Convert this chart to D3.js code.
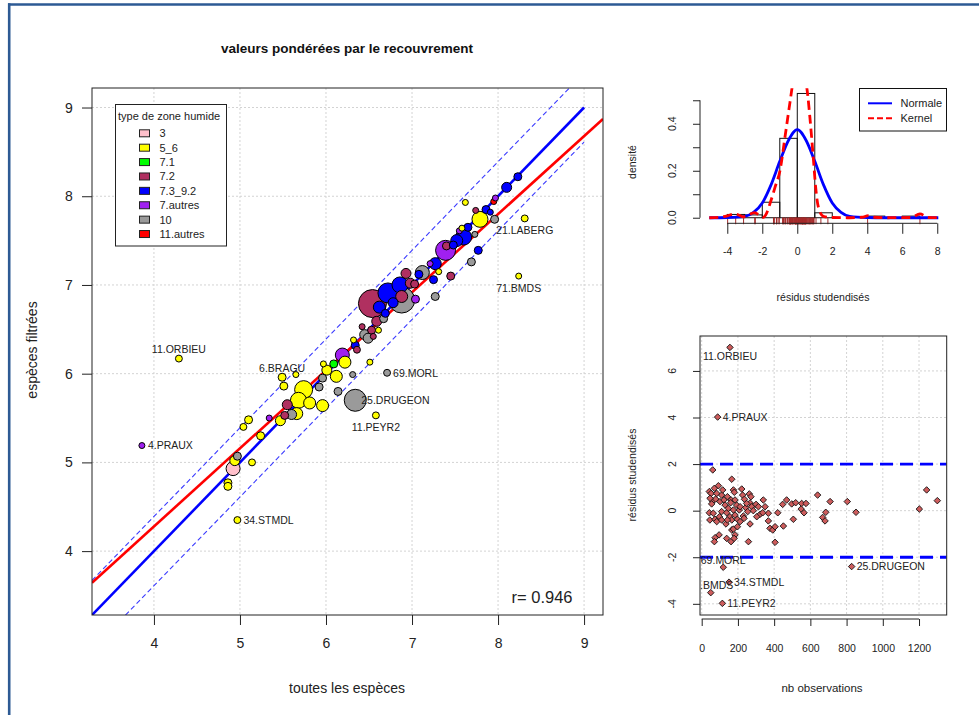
<!DOCTYPE html>
<html>
<head>
<meta charset="utf-8">
<script src="https://cdn.jsdelivr.net/npm/d3@7"></script>
<style>
  body { margin: 0; background: #fff; }
  svg { display: block; font-family: "Liberation Sans", Arial, sans-serif; }
</style>
</head>
<body>
<svg id="fig" width="979" height="715"></svg>
<script>
// ---------- nuage principal : richesse toutes espèces vs espèces filtrées ----------
const groupes = ["3", "5_6", "7.1", "7.2", "7.3_9.2", "7.autres", "10", "11.autres"];

// the first nine sites carry a name label
const sitesEtiquetes = ["11.ORBIEU", "4.PRAUX", "6.BRAGU", "69.MORL", "25.DRUGEON",
                        "11.PEYR2", "34.STMDL", "21.LABERG", "71.BMDS"];

const toutesEspeces = [
  4.29, 3.86, 5.49, 6.71, 6.34, 6.58, 4.97, 8.31, 8.24,
  4.94, 4.97, 4.92, 5.14, 4.86, 4.86, 5.24, 5.04, 5.10, 5.34,
  5.47, 5.60, 5.52, 5.55, 5.66, 5.74, 5.68, 5.81, 5.96, 5.65,
  5.51, 5.92, 5.96, 6.01, 6.12, 5.97, 6.09, 6.19, 6.22, 6.14,
  6.31, 6.51, 6.34, 6.32, 6.36, 6.42, 6.45, 6.49, 6.55, 6.53,
  6.61, 6.59, 6.67, 6.69, 6.54, 6.72, 6.88, 6.88, 6.86, 7.04,
  7.27, 6.93, 6.98, 7.03, 7.12, 7.25, 7.27, 7.31, 7.45, 7.69,
  7.21, 7.39, 7.40, 7.48, 7.52, 7.60, 7.55, 7.58, 7.65, 7.73,
  7.77, 7.79, 7.96, 7.74, 7.86, 7.91, 7.62, 7.95, 7.97, 8.10,
  8.23, 6.62, 6.78, 7.08
];
const especesFiltrees = [
  6.17, 5.19, 5.96, 6.01, 5.70, 5.53, 4.35, 7.75, 7.10,
  5.02, 5.07, 4.93, 5.00, 4.77, 4.73, 5.30, 5.40, 5.48, 5.50,
  5.47, 5.54, 5.53, 5.65, 5.55, 5.82, 5.70, 5.67, 5.64, 5.99,
  5.86, 5.85, 5.95, 6.04, 5.97, 6.11, 6.11, 6.21, 6.13, 5.80,
  5.99, 6.13, 6.32, 6.38, 6.27, 6.53, 6.44, 6.40, 6.42, 6.49,
  6.49, 6.59, 6.62, 6.68, 6.79, 6.91, 6.83, 6.87, 7.00, 6.84,
  6.87, 7.13, 7.02, 7.01, 7.14, 7.06, 7.24, 7.15, 7.10, 7.26,
  7.24, 7.39, 7.44, 7.45, 7.50, 7.54, 7.61, 7.64, 7.65, 7.57,
  7.39, 7.74, 7.74, 7.84, 7.85, 7.82, 7.93, 7.94, 7.98, 8.10,
  8.22, 6.75, 6.80, 7.12
];
// weighting by cover (recouvrement), drawn as circle area
const poids = [
  12, 9, 16, 12, 121, 12, 12, 12, 9,
  25, 16, 49, 12, 16, 16, 16, 12, 16, 9,
  25, 25, 16, 25, 36, 81, 64, 36, 36, 9,
  16, 16, 16, 25, 36, 9, 16, 49, 36, 16,
  9, 9, 16, 9, 12, 9, 25, 25, 9, 16,
  9, 25, 16, 16, 196, 100, 169, 36, 64, 16,
  16, 25, 25, 16, 49, 16, 36, 9, 16, 16,
  9, 100, 16, 16, 36, 64, 9, 9, 16, 9,
  16, 64, 16, 9, 16, 9, 9, 9, 9, 25,
  16, 36, 25, 16
];
const zone = [
  "5_6", "7.autres", "5_6", "10", "10", "5_6", "5_6", "5_6", "5_6",
  "5_6", "10", "3", "5_6", "5_6", "5_6", "5_6", "5_6", "5_6", "7.autres",
  "5_6", "10", "7.2", "7.2", "5_6", "5_6", "5_6", "5_6", "5_6", "5_6",
  "5_6", "10", "10", "5_6", "5_6", "5_6", "7.1", "7.autres", "5_6", "10",
  "10", "5_6", "7.3_9.2", "5_6", "7.2", "7.2", "10", "10", "7.2", "7.2",
  "5_6", "7.2", "10", "7.3_9.2", "7.2", "7.3_9.2", "10", "7.2", "7.3_9.2", "7.autres",
  "10", "7.2", "7.2", "7.2", "10", "7.3_9.2", "7.3_9.2", "5_6", "7.2", "10",
  "7.autres", "7.autres", "7.2", "7.3_9.2", "7.3_9.2", "7.3_9.2", "7.autres", "5_6", "7.3_9.2", "10",
  "7.3_9.2", "5_6", "10", "7.2", "7.3_9.2", "7.3_9.2", "5_6", "11.autres", "7.autres", "7.3_9.2",
  "7.3_9.2", "7.3_9.2", "7.3_9.2", "7.3_9.2"
];
const coefCorrelation = 0.946;
const regression = { a: 0.758, b: 0.880 };   // y = a + b x
const demiBande = 0.39;                       // band around the 1:1 line
const ticksMain = [4, 5, 6, 7, 8, 9];

// ---------- résidus studentisés vs nb observations ----------
const sitesResidus = ["11.ORBIEU", "4.PRAUX", "69.MORL", "71.BMDS", "34.STMDL", "11.PEYR2", "25.DRUGEON"];
const nbObservations = [
  156, 88, 119, 50, 151, 114, 828,
  61, 166, 92, 70, 42, 52, 110, 142, 175, 180, 221, 226, 263, 272, 61, 77, 101, 123, 162, 193,
  42, 45, 64, 74, 83, 98, 110, 138, 156, 166, 184, 197, 208, 230, 243, 254, 267, 276, 285, 300,
  313, 322, 340, 350, 368, 368, 377, 392, 405, 405, 420, 451, 447, 469, 497, 519, 506, 552, 549,
  565, 576, 640, 668, 685, 681, 709, 804, 852, 1202, 1242, 1301, 74, 96, 70, 138, 162, 166, 175,
  184, 179, 258, 55, 46, 83, 116, 129, 147, 184, 212, 236, 248, 110, 134, 197, 267, 304, 337, 175,
  212, 234, 142, 160
];
const residus = [
  7.01, 4.02, -2.43, -3.52, -3.07, -3.98, -2.40,
  1.75, 1.35, 1.07, 0.96, 0.82, 0.74, 0.67, 0.60, 0.89, 0.79, 0.93, 0.67, 0.72, 0.60, 0.41, 0.50, 0.39, 0.46, 0.46, 0.24,
  -0.09, -0.40, -0.11, -0.37, -0.47, -0.26, -0.04, -0.09, -0.26, -0.40, -0.19, -0.37, 0.03, -0.23, 0.13, -0.04, 0.33, 0.17, 0.00, 0.27,
  0.17, -0.16, 0.46, 0.17, -0.11, -0.44, -0.76, -0.83, -0.69, -1.36, -0.09, -0.66, 0.27, 0.46, 0.29, 0.34, -0.37, 0.31, 0.07,
  -0.09, 0.31, 0.67, -0.29, -0.07, -0.44, 0.39, 0.39, -0.07, 0.07, 0.89, 0.43, -1.16, -1.04, -1.33, -1.19, -1.33, -0.83, -0.79,
  -1.04, -1.19, -1.33, 0.29, 0.53, 0.74, 0.89, 0.24, 0.10, 0.46, 0.17, 0.49, 0.31, -0.40, -0.57, -0.69, -0.57, -0.26, -0.09, 0.03,
  -0.47, -0.33, -0.40, 0.34
];
const seuilResidus = [2, -2];

// ---------- histogramme des résidus ----------
const bornes = [-4, -3, -2, -1, 0, 1, 2, 3, 4, 5, 6, 7, 8];
const densites = [0.014, 0.012, 0.066, 0.338, 0.529, 0.021, 0, 0, 0.007, 0, 0.007, 0];
const normaleX = [-5.03, -4, -3, -2.5, -2, -1.5, -1, -0.5, 0, 0.5, 1, 1.5, 2, 2.5, 3, 4, 5, 6, 7, 8.06];
const normaleY = [0, 0.001, 0.006, 0.023, 0.063, 0.14, 0.24, 0.33, 0.375, 0.33, 0.24, 0.14, 0.063, 0.023, 0.006, 0.001, 0, 0, 0, 0];
const noyauX = [-5.03, -4.5, -4.0, -3.6, -3.3, -3.1, -2.8, -2.45, -2.2, -1.95, -1.75, -1.56, -1.27, -0.99,
                -0.70, -0.42, -0.2, 0.1, 0.4, 0.6, 0.73, 0.91, 1.05, 1.2, 1.49, 2.0, 3.0, 3.7, 4.06, 4.4,
                5.0, 6.5, 7.01, 7.5, 8.06];
const noyauY = [0, 0.002, 0.008, 0.016, 0.010, 0.004, 0.012, 0.022, 0.012, 0.002, 0.02, 0.06, 0.13, 0.20,
                0.345, 0.49, 0.6, 0.68, 0.62, 0.52, 0.42, 0.26, 0.13, 0.047, 0.006, 0.001, 0, 0.002, 0.009, 0.002,
                0, 0.001, 0.016, 0.001, 0];

// ---------- styles ----------
const palette = {
  "3": "#FFC0CB", "5_6": "#FFFF00", "7.1": "#00FF00", "7.2": "#B03060",
  "7.3_9.2": "#0000FF", "7.autres": "#A020F0", "10": "#9A9A9A", "11.autres": "#FF0000"
};
const placeMain = { "11.ORBIEU": 3, "4.PRAUX": 4, "6.BRAGU": 3, "69.MORL": 4, "25.DRUGEON": 4,
                    "11.PEYR2": 1, "34.STMDL": 4, "21.LABERG": 1, "71.BMDS": 1 };
const placeRes = { "11.ORBIEU": 1, "4.PRAUX": 4, "69.MORL": 3, "71.BMDS": 3, "34.STMDL": 4,
                   "11.PEYR2": 4, "25.DRUGEON": 4 };
const gridStyle = { stroke: "#d3d3d3", dash: "2,2" };
const txtCol = "#222";

const svg = d3.select("#fig");

// window frame
svg.append("line").attr("x1", 8).attr("x2", 979).attr("y1", 4.5).attr("y2", 4.5)
  .attr("stroke", "#2d5a94").attr("stroke-width", 2.6);
svg.append("line").attr("x1", 9.2).attr("x2", 9.2).attr("y1", 3.2).attr("y2", 715)
  .attr("stroke", "#2d5a94").attr("stroke-width", 2.6);

function clip(id, x0, y0, x1, y1) {
  svg.append("clipPath").attr("id", id).append("rect")
    .attr("x", x0).attr("y", y0).attr("width", x1 - x0).attr("height", y1 - y0);
  return "url(#" + id + ")";
}
function text(g, x, y, s, size, anchor, rot) {
  const t = g.append("text").attr("x", x).attr("y", y).text(s)
    .attr("font-size", size).attr("fill", txtCol).attr("text-anchor", anchor || "middle");
  if (rot) t.attr("transform", `rotate(${rot},${x},${y})`);
  return t;
}

// =================== main scatter ===================
const PM = { l: 92, r: 603, t: 88, b: 615 };
const x = d3.scaleLinear().domain([3.28, 9.22]).range([PM.l, PM.r]);
const y = d3.scaleLinear().domain([3.28, 9.22]).range([PM.b, PM.t]);
const rScale = d3.scaleSqrt().domain([0, 196]).range([0, 14]);
const gm = svg.append("g");
const clipMain = clip("clipMain", PM.l, PM.t, PM.r, PM.b);

gm.append("text").attr("x", 347).attr("y", 52.5).attr("text-anchor", "middle")
  .attr("font-size", 13.5).attr("font-weight", "bold").attr("fill", "#111")
  .text("valeurs pondérées par le recouvrement");

// grid
ticksMain.forEach(t => {
  gm.append("line").attr("x1", x(t)).attr("x2", x(t)).attr("y1", PM.t).attr("y2", PM.b)
    .attr("stroke", gridStyle.stroke).attr("stroke-dasharray", gridStyle.dash);
  gm.append("line").attr("y1", y(t)).attr("y2", y(t)).attr("x1", PM.l).attr("x2", PM.r)
    .attr("stroke", gridStyle.stroke).attr("stroke-dasharray", gridStyle.dash);
});

// axes
const xAx = gm.append("g").attr("transform", `translate(0,${PM.b})`)
  .call(d3.axisBottom(x).tickValues(ticksMain).tickSize(10).tickPadding(13).tickFormat(d3.format("d")));
const yAx = gm.append("g").attr("transform", `translate(${PM.l},0)`)
  .call(d3.axisLeft(y).tickValues(ticksMain).tickSize(10).tickFormat(""));
[xAx, yAx].forEach(a => { a.select(".domain").remove(); a.selectAll("line").attr("stroke", "#222"); });
xAx.selectAll("text").attr("font-size", 14).attr("fill", txtCol).attr("font-family", null);
ticksMain.forEach(t => text(gm, 69, y(t) + 5, String(t), 14));

text(gm, 347, 693, "toutes les espèces", 14);
text(gm, 37, 350, "espèces filtrées", 14, "middle", -90);

// reference lines
const lineMain = d3.line().x(d => x(d[0])).y(d => y(d[1]));
const xLo = x.domain()[0], xHi = x.domain()[1];
const lines = gm.append("g").attr("clip-path", clipMain);
lines.append("path").attr("d", lineMain([[xLo, xLo], [9, 9]]))
  .attr("stroke", "#0000FF").attr("stroke-width", 2.6).attr("fill", "none");
[demiBande, -demiBande].forEach(o => {
  lines.append("path").attr("d", lineMain([[xLo, xLo + o], [9, 9 + o]]))
    .attr("stroke", "#3a3aff").attr("stroke-width", 1.1).attr("stroke-dasharray", "5,3").attr("fill", "none");
});
lines.append("path")
  .attr("d", lineMain([[xLo, regression.a + regression.b * xLo], [xHi, regression.a + regression.b * xHi]]))
  .attr("stroke", "#FF0000").attr("stroke-width", 2.6).attr("fill", "none");

// points, largest first
const pts = toutesEspeces.map((v, i) => ({ x: v, y: especesFiltrees[i], w: poids[i], z: zone[i],
  nom: i < sitesEtiquetes.length ? sitesEtiquetes[i] : null }));
const ptsG = gm.append("g").attr("clip-path", clipMain);
ptsG.selectAll("circle").data(pts.slice().sort((a, b) => b.w - a.w)).join("circle")
  .attr("cx", d => x(d.x)).attr("cy", d => y(d.y)).attr("r", d => rScale(d.w))
  .attr("fill", d => palette[d.z]).attr("stroke", "#000").attr("stroke-width", 1);

// site labels
const labG = gm.append("g").attr("clip-path", clipMain);
pts.filter(d => d.nom).forEach(d => {
  const px = x(d.x), py = y(d.y), p = placeMain[d.nom];
  if (p === 1) text(labG, px, py + 15.5, d.nom, 10.5);
  else if (p === 3) text(labG, px, py - 5.5, d.nom, 10.5);
  else text(labG, px + 6, py + 3.8, d.nom, 10.5, "start");
});

// legend
const lg = gm.append("g");
lg.append("rect").attr("x", 115.5).attr("y", 104.5).attr("width", 111).attr("height", 141.5)
  .attr("fill", "#fff").attr("stroke", "#222");
text(lg, 118, 120, "type de zone humide", 11, "start");
groupes.forEach((g, i) => {
  const cy = 133.3 + i * 14.39;
  lg.append("rect").attr("x", 139.5).attr("y", cy - 3.5).attr("width", 10).attr("height", 7)
    .attr("fill", palette[g]).attr("stroke", "#222");
  text(lg, 159.5, cy + 4, g, 11, "start");
});

text(gm, 542, 602.5, "r= " + coefCorrelation.toFixed(3), 16.5);

// box
gm.append("rect").attr("x", PM.l).attr("y", PM.t).attr("width", PM.r - PM.l).attr("height", PM.b - PM.t)
  .attr("fill", "none").attr("stroke", "#222");

// =================== histogram of residuals ===================
const PH = { l: 700, r: 946.7, t: 88.3, b: 222.9 };
const hx = d3.scaleLinear().domain([-5.56, 8.54]).range([PH.l, PH.r]);
const hy = d3.scaleLinear().domain([-0.022, 0.551]).range([PH.b, PH.t]);
const gh = svg.append("g");
const clipH = clip("clipH", PH.l, PH.t, PH.r, PH.b);

gh.selectAll("rect.bar").data(densites).join("rect").attr("class", "bar")
  .attr("x", (d, i) => hx(bornes[i])).attr("width", (d, i) => hx(bornes[i + 1]) - hx(bornes[i]))
  .attr("y", d => hy(d)).attr("height", d => hy(0) - hy(d))
  .attr("fill", "none").attr("stroke", "#111").attr("stroke-width", 1);

// rug
gh.selectAll("line.rug").data(residus).join("line").attr("class", "rug")
  .attr("x1", d => hx(d)).attr("x2", d => hx(d)).attr("y1", hy(0)).attr("y2", hy(0) + 6.5)
  .attr("stroke", "#A52A2A").attr("stroke-width", 1);

const curveG = gh.append("g").attr("clip-path", clipH);
const lineH = d3.line().x(d => hx(d[0])).y(d => hy(d[1])).curve(d3.curveMonotoneX);
curveG.append("path").attr("d", lineH(normaleX.map((v, i) => [v, normaleY[i]])))
  .attr("fill", "none").attr("stroke", "#0000FF").attr("stroke-width", 2.8);
curveG.append("path").attr("d", lineH(noyauX.map((v, i) => [v, noyauY[i]])))
  .attr("fill", "none").attr("stroke", "#FF0000").attr("stroke-width", 2.8).attr("stroke-dasharray", "9,5");

// axes
const hxTicks = [-4, -2, 0, 2, 4, 6, 8];
const hyTicks = [0, 0.1, 0.2, 0.3, 0.4, 0.5];
const axH = gh.append("g").attr("transform", `translate(0,${PH.b + 0.4})`)
  .call(d3.axisBottom(hx).tickValues(hxTicks).tickSize(10.5).tickPadding(14).tickFormat(d3.format("d")));
axH.select(".domain").remove();
axH.selectAll("text").attr("font-size", 10.5).attr("fill", txtCol).attr("font-family", null)
  .text(d => String(d).replace("−", "-"));
gh.append("line").attr("x1", hx(-4)).attr("x2", hx(8)).attr("y1", PH.b + 0.4).attr("y2", PH.b + 0.4).attr("stroke", "#222");
axH.selectAll("line").attr("stroke", "#222");
const ayH = gh.append("g").attr("transform", `translate(${PH.l},0)`)
  .call(d3.axisLeft(hy).tickValues(hyTicks).tickSize(7).tickFormat(""));
ayH.select(".domain").remove();
ayH.selectAll("line").attr("stroke", "#222");
gh.append("line").attr("x1", PH.l).attr("x2", PH.l).attr("y1", hy(0)).attr("y2", hy(0.5)).attr("stroke", "#222");
[0, 0.2, 0.4].forEach(t => text(gh, 676.5, hy(t), t.toFixed(1), 10.5, "middle", -90));
text(gh, 636, 162, "densité", 10.5, "middle", -90);
text(gh, 823, 300.5, "résidus studendisés", 10.5);

// legend
const lh = gh.append("g");
lh.append("rect").attr("x", 859.5).attr("y", 88.5).attr("width", 87).attr("height", 42.5)
  .attr("fill", "#fff").attr("stroke", "#111");
lh.append("line").attr("x1", 868).attr("x2", 892).attr("y1", 103.3).attr("y2", 103.3)
  .attr("stroke", "#0000FF").attr("stroke-width", 2);
lh.append("line").attr("x1", 868).attr("x2", 892).attr("y1", 118.3).attr("y2", 118.3)
  .attr("stroke", "#FF0000").attr("stroke-width", 2).attr("stroke-dasharray", "6,3");
text(lh, 900.5, 107.2, "Normale", 11, "start");
text(lh, 900.5, 122.2, "Kernel", 11, "start");

// =================== residuals vs number of observations ===================
const PR = { l: 700, r: 946.7, t: 336, b: 615 };
const rx = d3.scaleLinear().domain([-9.4, 1352.8]).range([PR.l, PR.r]);
const ry = d3.scaleLinear().domain([-4.48, 7.50]).range([PR.b, PR.t]);
const gr = svg.append("g");
const clipR = clip("clipR", PR.l, PR.t, PR.r, PR.b);
const rxTicks = [0, 200, 400, 600, 800, 1000, 1200];
const ryTicks = [-4, -2, 0, 2, 4, 6];

rxTicks.forEach(t => gr.append("line").attr("x1", rx(t)).attr("x2", rx(t)).attr("y1", PR.t).attr("y2", PR.b)
  .attr("stroke", gridStyle.stroke).attr("stroke-dasharray", gridStyle.dash));
ryTicks.forEach(t => gr.append("line").attr("y1", ry(t)).attr("y2", ry(t)).attr("x1", PR.l).attr("x2", PR.r)
  .attr("stroke", gridStyle.stroke).attr("stroke-dasharray", gridStyle.dash));

const rIn = gr.append("g").attr("clip-path", clipR);
seuilResidus.forEach(s => rIn.append("line").attr("x1", PR.l).attr("x2", PR.r).attr("y1", ry(s)).attr("y2", ry(s))
  .attr("stroke", "#0000FF").attr("stroke-width", 2.8).attr("stroke-dasharray", "13,7"));

const diamant = d3.symbol().type(d3.symbolDiamond2).size(27);
rIn.selectAll("path.pt").data(nbObservations.map((v, i) => [v, residus[i]])).join("path").attr("class", "pt")
  .attr("d", diamant).attr("transform", d => `translate(${rx(d[0])},${ry(d[1])})`)
  .attr("fill", "#CD5C5C").attr("stroke", "#111").attr("stroke-width", 0.9);

sitesResidus.forEach((nom, i) => {
  const px = rx(nbObservations[i]), py = ry(residus[i]), p = placeRes[nom];
  if (p === 1) text(rIn, px, py + 13, nom, 10.5);
  else if (p === 3) text(rIn, px, py - 3.3, nom, 10.5);
  else text(rIn, px + 5, py + 3.8, nom, 10.5, "start");
});

gr.append("rect").attr("x", PR.l).attr("y", PR.t).attr("width", PR.r - PR.l).attr("height", PR.b - PR.t)
  .attr("fill", "none").attr("stroke", "#222");

const axR = gr.append("g").attr("transform", `translate(0,${PR.b + 4})`)
  .call(d3.axisBottom(rx).tickValues(rxTicks).tickSize(7).tickPadding(19).tickFormat(d3.format("d")));
axR.select(".domain").remove();
axR.selectAll("line").attr("stroke", "#222");
axR.selectAll("text").attr("font-size", 10.5).attr("fill", txtCol).attr("font-family", null);
gr.append("line").attr("x1", rx(0)).attr("x2", rx(1200)).attr("y1", PR.b + 4).attr("y2", PR.b + 4).attr("stroke", "#222");
const ayR = gr.append("g").attr("transform", `translate(${PR.l},0)`)
  .call(d3.axisLeft(ry).tickValues(ryTicks).tickSize(7).tickFormat(""));
ayR.select(".domain").remove();
ayR.selectAll("line").attr("stroke", "#222");
ryTicks.forEach(t => text(gr, 676.5, ry(t), String(t), 10.5, "middle", -90));
text(gr, 636, 475, "résidus studendisés", 10.5, "middle", -90);
text(gr, 822, 692, "nb observations", 11.5);
</script>
</body>
</html>
